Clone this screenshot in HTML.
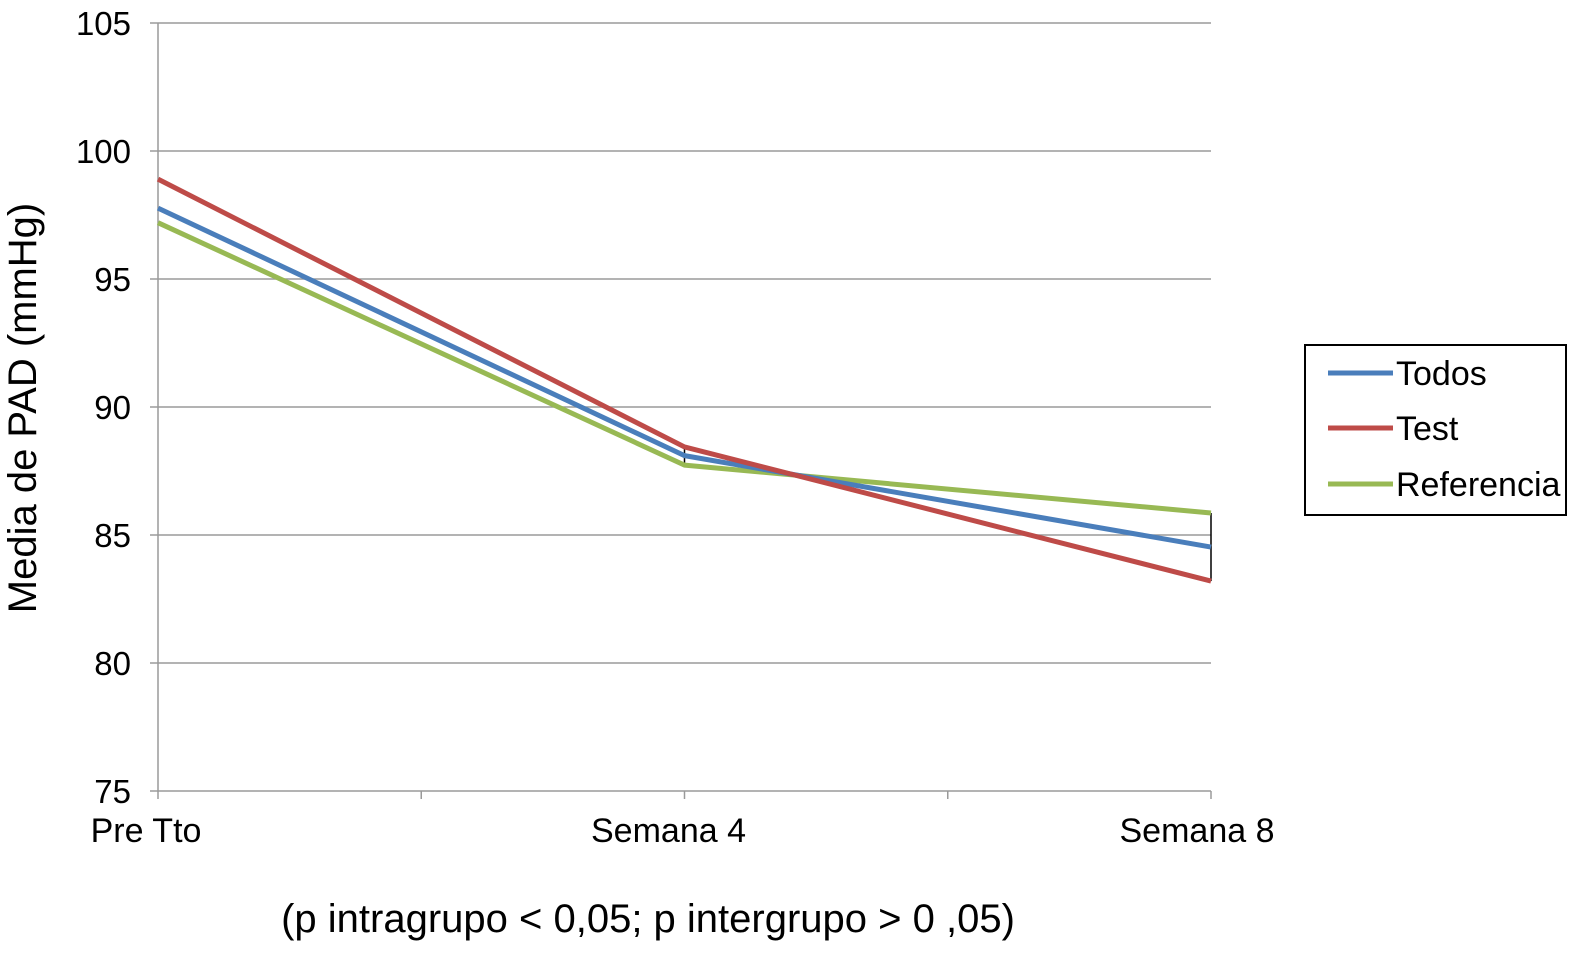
<!DOCTYPE html>
<html><head><meta charset="utf-8"><style>
html,body{margin:0;padding:0;background:#fff;}
svg{display:block;font-family:"Liberation Sans",Arial,sans-serif;}
</style></head><body>
<svg id="chart" width="1591" height="954" viewBox="0 0 1591 954">
<g id="grid"></g>
<g id="axes"></g>
<g id="series"></g>
<text x="36" y="408" font-size="40" text-anchor="middle" transform="rotate(-90 36 408)">Media de PAD (mmHg)</text>
<text x="648" y="932" font-size="40" text-anchor="middle">(p intragrupo &lt; 0,05; p intergrupo &gt; 0 ,05)</text>
<g>
<rect x="1305" y="345" width="261" height="170" fill="#fff" stroke="#000" stroke-width="2"/>
<line x1="1328" y1="373" x2="1393" y2="373" stroke="#4a7ebb" stroke-width="5"/>
<text x="1396" y="385" font-size="34">Todos</text>
<line x1="1328" y1="428" x2="1393" y2="428" stroke="#be4b48" stroke-width="5"/>
<text x="1396" y="440" font-size="34">Test</text>
<line x1="1328" y1="484" x2="1393" y2="484" stroke="#98b954" stroke-width="5"/>
<text x="1396" y="496" font-size="34">Referencia</text>
</g>
</svg>
<script>
const categories = ["Pre Tto", "Semana 4", "Semana 8"];
const todos = [97.77, 88.1, 84.53];
const test = [98.9, 88.44, 83.2];
const referencia = [97.2, 87.73, 85.86];
const yTicks = [75, 80, 85, 90, 95, 100, 105];

const NS = "http://www.w3.org/2000/svg";
const x0 = 158, x1 = 1211, yTop = 23, yBot = 791, yMin = 75, yMax = 105;
function xScale(i){ return x0 + i * (x1 - x0) / (categories.length - 1); }
function yScale(v){ return yBot - (v - yMin) / (yMax - yMin) * (yBot - yTop); }
function mk(tag, attrs, parent){ const e = document.createElementNS(NS, tag); for (const k in attrs) e.setAttribute(k, attrs[k]); parent.appendChild(e); return e; }
const grid = document.getElementById('grid'), axes = document.getElementById('axes'), series = document.getElementById('series');

yTicks.forEach(t => {
  const y = yScale(t);
  if (t > yMin) {
    const g = mk('line', {x1: x0, x2: x1, y1: y, y2: y, stroke: '#9a9a9a', 'stroke-width': 1.5}, grid);
    
    
  }
  const tk = mk('line', {x1: x0 - 8, x2: x0, y1: y, y2: y, stroke: '#9a9a9a', 'stroke-width': 1.5}, axes);
  
  
  const lb = mk('text', {x: 131, y: y + 12, 'font-size': 33, 'text-anchor': 'end'}, axes);
  lb.textContent = t;
  
  
});
const ya = mk('line', {x1: x0, x2: x0, y1: yTop, y2: yBot, stroke: '#9a9a9a', 'stroke-width': 1.5}, axes);


const xa = mk('line', {x1: x0, x2: x1, y1: yBot, y2: yBot, stroke: '#9a9a9a', 'stroke-width': 1.5}, axes);


for (let i = 0; i <= (categories.length - 1) * 2; i++) {
  const x = x0 + i * (x1 - x0) / ((categories.length - 1) * 2);
  const tk = mk('line', {x1: x, x2: x, y1: yBot, y2: yBot + 8, stroke: '#9a9a9a', 'stroke-width': 1.5}, axes);
  
  
}
categories.forEach((c, i) => {
  const lb = mk('text', {x: xScale(i) + (i === 0 ? -12 : i === categories.length - 1 ? -14 : -16), y: 842, 'font-size': 34, 'text-anchor': 'middle'}, axes);
  lb.textContent = c;
  
  
});
for (let i = 1; i < categories.length; i++) {
  const vals = [todos[i], test[i], referencia[i]];
  const eb = mk('line', {x1: xScale(i), x2: xScale(i), y1: yScale(Math.max(...vals)), y2: yScale(Math.min(...vals)), stroke: '#000', 'stroke-width': 1.5}, series);
  
  
}
[[referencia, '#98b954', 'referencia'], [todos, '#4a7ebb', 'todos'], [test, '#be4b48', 'test']].forEach(([d, col, nm]) => {
  const p = mk('polyline', {points: d.map((v, i) => xScale(i) + ',' + yScale(v)).join(' '), fill: 'none', stroke: col, 'stroke-width': 5, 'stroke-linejoin': 'round'}, series);
  
  
});
</script>
</body></html>
